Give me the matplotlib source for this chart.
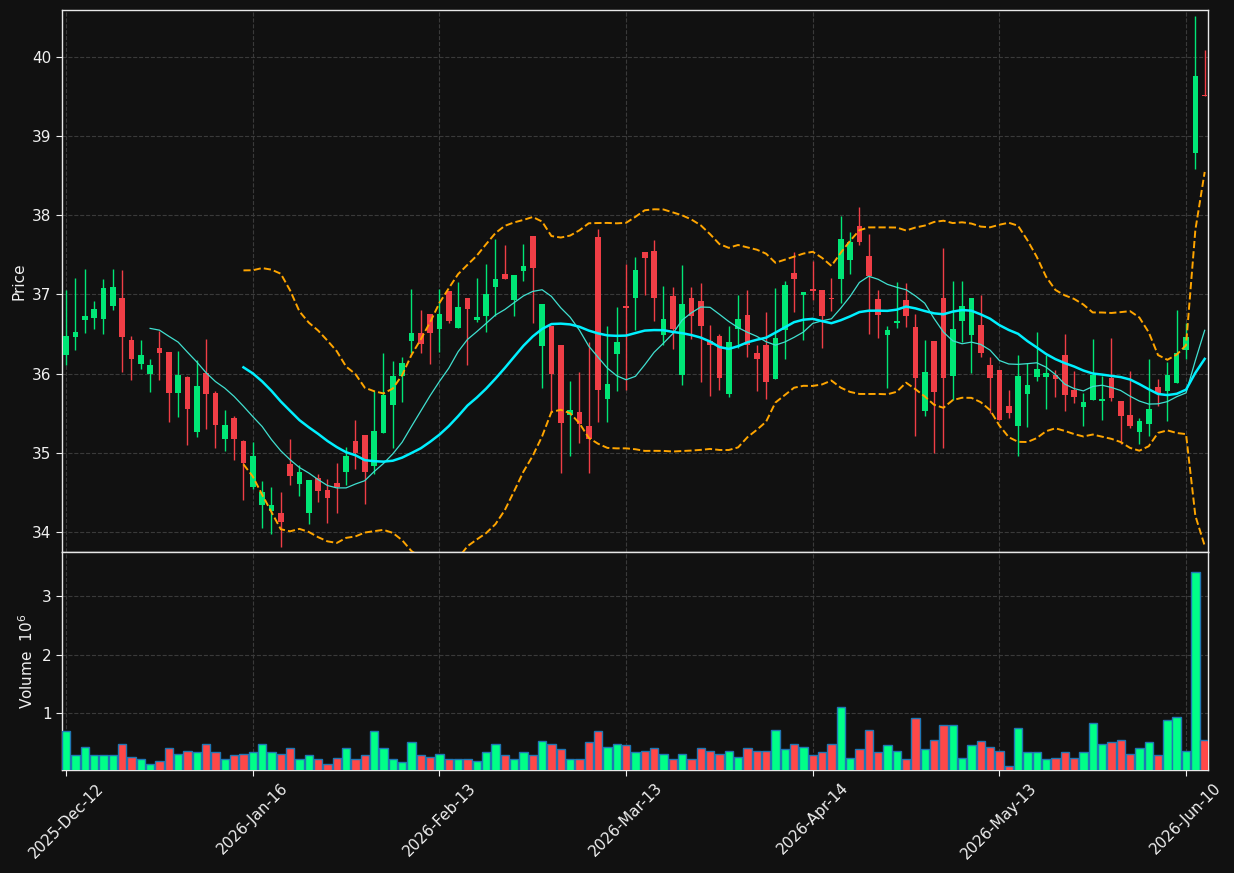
import numpy as np
import pandas as pd
import matplotlib
matplotlib.use("Agg")
import matplotlib.pyplot as plt

# ---------------- data ----------------
opens = [36.23, 36.46, 36.675, 36.70, 36.69, 36.85, 36.96, 36.42, 36.12, 36.00,
         36.32, 36.28, 35.76, 35.96, 35.27, 36.01, 35.76, 35.18, 35.44, 35.15,
         34.57, 34.34, 34.27, 34.24, 34.86, 34.61, 34.24, 34.69, 34.53, 34.62,
         34.76, 35.15, 35.23, 34.84, 35.25, 35.61, 35.97, 36.41, 36.51, 36.75,
         36.57, 37.04, 36.58, 36.96, 36.68, 36.73, 37.09, 37.26, 36.93, 37.30,
         37.74, 36.35, 36.60, 36.36, 35.48, 35.52, 35.34, 37.72, 35.68, 36.25,
         36.85, 36.96, 37.53, 37.55, 36.49, 36.98, 35.98, 36.96, 36.92, 36.41,
         36.48, 35.74, 36.56, 36.74, 36.26, 36.36, 35.93, 36.55, 37.27, 36.99,
         37.07, 37.06, 36.96, 37.20, 37.44, 37.86, 37.48, 36.94, 36.49, 36.64,
         36.93, 36.59, 35.53, 36.41, 36.95, 35.97, 36.67, 36.49, 36.61, 36.11,
         36.05, 35.59, 35.34, 35.74, 35.96, 35.96, 35.99, 36.24, 35.79, 35.58,
         35.67, 35.66, 35.95, 35.65, 35.48, 35.26, 35.37, 35.83, 35.78, 35.88,
         36.30, 38.78, 39.52]
highs = [37.06, 37.21, 37.32, 36.92, 37.19, 37.32, 37.31, 36.48, 36.43, 36.19,
         36.54, 36.28, 36.29, 35.97, 36.17, 36.44, 35.78, 35.54, 35.47, 35.16,
         35.14, 34.64, 34.57, 34.51, 35.18, 34.85, 34.66, 34.74, 34.67, 34.87,
         35.08, 35.41, 35.23, 35.78, 36.26, 36.16, 36.21, 37.07, 36.80, 36.75,
         37.07, 37.04, 37.16, 36.96, 37.21, 37.38, 37.70, 37.63, 37.25, 37.64,
         37.74, 36.88, 36.60, 36.36, 35.91, 36.02, 36.40, 37.83, 36.60, 36.84,
         37.38, 37.47, 37.53, 37.69, 37.11, 37.09, 37.37, 37.09, 37.14, 36.61,
         36.50, 36.60, 36.99, 37.06, 36.36, 36.78, 37.08, 37.17, 37.53, 37.03,
         37.42, 37.06, 37.21, 37.99, 37.79, 38.10, 37.76, 37.06, 36.60, 37.16,
         37.14, 36.76, 36.42, 36.41, 37.59, 37.17, 37.17, 36.95, 36.99, 36.21,
         36.05, 35.80, 36.24, 36.13, 36.53, 36.23, 36.05, 36.50, 36.03, 35.76,
         36.44, 35.97, 36.45, 35.65, 36.04, 35.44, 36.18, 35.93, 36.15, 36.81,
         36.64, 40.52, 40.09]
lows = [36.11, 36.30, 36.51, 36.57, 36.50, 36.80, 36.02, 35.92, 36.06, 35.77,
        35.92, 35.39, 35.45, 35.10, 35.20, 35.30, 35.06, 35.02, 34.91, 34.41,
        34.55, 34.05, 33.98, 33.81, 34.60, 34.46, 34.10, 34.38, 34.12, 34.24,
        34.60, 34.80, 34.35, 34.73, 35.25, 35.06, 35.64, 36.26, 36.26, 36.12,
        36.28, 36.64, 36.58, 36.11, 36.65, 36.53, 36.73, 37.20, 36.73, 37.17,
        36.64, 35.82, 35.52, 34.75, 34.96, 35.12, 34.75, 35.39, 35.39, 35.78,
        35.79, 36.55, 36.99, 36.66, 36.36, 36.31, 35.86, 36.44, 35.89, 35.72,
        35.79, 35.70, 36.32, 36.21, 35.78, 35.68, 35.93, 36.18, 36.78, 36.42,
        36.93, 36.32, 36.79, 36.89, 37.26, 37.63, 36.50, 36.45, 35.82, 36.58,
        36.59, 35.22, 35.47, 35.00, 35.06, 35.67, 36.40, 36.01, 36.21, 35.50,
        35.42, 35.44, 34.96, 35.33, 35.91, 35.56, 35.70, 35.53, 35.63, 35.34,
        35.67, 35.41, 35.65, 35.11, 35.32, 35.11, 35.21, 35.59, 35.40, 35.88,
        36.19, 38.59, 39.50]
closes = [36.48, 36.53, 36.73, 36.82, 37.08, 37.10, 36.46, 36.18, 36.23, 36.11,
          36.26, 35.76, 35.99, 35.55, 35.84, 35.74, 35.35, 35.35, 35.18, 34.87,
          34.96, 34.51, 34.34, 34.13, 34.71, 34.76, 34.66, 34.52, 34.43, 34.57,
          34.96, 35.00, 34.76, 35.28, 35.73, 35.97, 36.13, 36.51, 36.38, 36.51,
          36.76, 36.67, 36.84, 36.82, 36.72, 37.01, 37.19, 37.20, 37.25, 37.36,
          37.33, 36.88, 36.00, 35.38, 35.54, 35.37, 35.17, 35.80, 35.87, 36.40,
          36.83, 37.31, 37.46, 36.95, 36.69, 36.57, 36.88, 36.73, 36.60, 36.36,
          35.95, 36.40, 36.69, 36.36, 36.18, 35.89, 36.45, 37.12, 37.19, 37.03,
          37.04, 36.73, 36.94, 37.70, 37.66, 37.66, 37.23, 36.74, 36.55, 36.66,
          36.73, 35.95, 36.02, 35.77, 35.95, 36.56, 36.85, 36.95, 36.26, 35.94,
          35.42, 35.51, 35.97, 35.86, 36.06, 36.01, 35.93, 35.73, 35.70, 35.64,
          35.98, 35.67, 35.69, 35.47, 35.34, 35.40, 35.55, 35.76, 35.98, 36.26,
          36.46, 39.76, 39.50]
volumes_m = [0.69, 0.28, 0.43, 0.29, 0.29, 0.29, 0.48, 0.26, 0.21, 0.14,
             0.19, 0.40, 0.31, 0.36, 0.33, 0.47, 0.34, 0.21, 0.28, 0.31,
             0.33, 0.47, 0.34, 0.31, 0.40, 0.22, 0.29, 0.21, 0.14, 0.24,
             0.40, 0.22, 0.29, 0.69, 0.40, 0.22, 0.17, 0.50, 0.29, 0.26,
             0.31, 0.21, 0.21, 0.21, 0.19, 0.33, 0.47, 0.29, 0.22, 0.34,
             0.28, 0.52, 0.48, 0.38, 0.22, 0.22, 0.50, 0.69, 0.43, 0.48,
             0.45, 0.34, 0.36, 0.40, 0.31, 0.22, 0.31, 0.21, 0.40, 0.36,
             0.31, 0.36, 0.26, 0.41, 0.36, 0.36, 0.72, 0.38, 0.47, 0.43,
             0.29, 0.34, 0.47, 1.10, 0.24, 0.38, 0.71, 0.33, 0.45, 0.36,
             0.21, 0.91, 0.38, 0.55, 0.79, 0.79, 0.24, 0.45, 0.53, 0.43,
             0.36, 0.10, 0.74, 0.33, 0.34, 0.22, 0.24, 0.33, 0.24, 0.33,
             0.83, 0.47, 0.50, 0.55, 0.31, 0.41, 0.50, 0.29, 0.88, 0.93,
             0.36, 3.41, 0.55]
tick_labels = ["2025-Dec-12", "2026-Jan-16", "2026-Feb-13", "2026-Mar-13",
               "2026-Apr-14", "2026-May-13", "2026-Jun-10"]

# ---------------- styling ----------------
BG = "#111111"
UP_C, DN_C = "#00E676", "#F03E46"
VUP_C, VDN_C = "#00FF88", "#FF4848"
GRID_C = "#3A3A3A"
TXT = "#F0F0F0"

df = pd.DataFrame({"Open": opens, "High": highs, "Low": lows,
                   "Close": closes, "Volume": volumes_m})
n = len(df)
x = np.arange(n)
up = df["Close"] >= df["Open"]

ma10 = df["Close"].rolling(10).mean()
ma20 = df["Close"].rolling(20).mean()
sd20 = df["Close"].rolling(20).std(ddof=0)
bb_up = ma20 + 2 * sd20
bb_dn = ma20 - 2 * sd20

fig = plt.figure(figsize=(12.34, 8.73), dpi=100, facecolor=BG)
ax = fig.add_axes([0.0502, 0.3677, 0.9287, 0.6208], facecolor=BG)
axv = fig.add_axes([0.0502, 0.1180, 0.9287, 0.2497], facecolor=BG, sharex=ax)

# candles
colors = np.where(up, UP_C, DN_C)
body_bottom = np.minimum(df["Open"], df["Close"])
body_h = np.maximum(np.abs(df["Close"] - df["Open"]), 0.015)
ax.vlines(x, df["Low"], df["High"], colors=colors, linewidth=1.0, zorder=3)
ax.bar(x, body_h, bottom=body_bottom, width=0.6, color=colors,
       linewidth=0, zorder=4)

# overlays
ax.plot(x, ma10, color="#40E0D0", linewidth=0.9, zorder=5)
ax.plot(x, ma20, color="#00F0FF", linewidth=1.8, zorder=5)
ax.plot(x, bb_up, color="#FFA500", linewidth=1.4, linestyle="--", zorder=5)
ax.plot(x, bb_dn, color="#FFA500", linewidth=1.4, linestyle="--", zorder=5)

ax.set_xlim(-0.45, n - 1 + 0.35)
ax.set_ylim(33.75, 40.59)
ax.set_ylabel("Price", color=TXT, fontsize=11)

# volume
vcolors = np.where(up, VUP_C, VDN_C)
axv.bar(x, df["Volume"], width=0.9, color=vcolors, edgecolor="#1F77B4",
        linewidth=1.0, zorder=3)
axv.set_ylim(0.3 * df["Volume"].min(), 1.1 * df["Volume"].max())
axv.set_yticks([1, 2, 3])
axv.set_ylabel("Volume  $10^{6}$", color=TXT, fontsize=11)

tick_pos = np.arange(0, n, 20)[:len(tick_labels)]
axv.set_xticks(tick_pos)
axv.set_xticklabels(tick_labels, rotation=45, ha="center")
plt.setp(ax.get_xticklabels(), visible=False)

for a in (ax, axv):
    a.grid(True, color=GRID_C, linestyle="--", linewidth=0.8)
    a.set_axisbelow(True)
    a.tick_params(colors=TXT, labelsize=11, length=4)
    for s in a.spines.values():
        s.set_color("#E8E8E8")
        s.set_linewidth(1.0)
ax.tick_params(axis="x", length=0)

fig.savefig("out.png", dpi=100, facecolor=BG)
